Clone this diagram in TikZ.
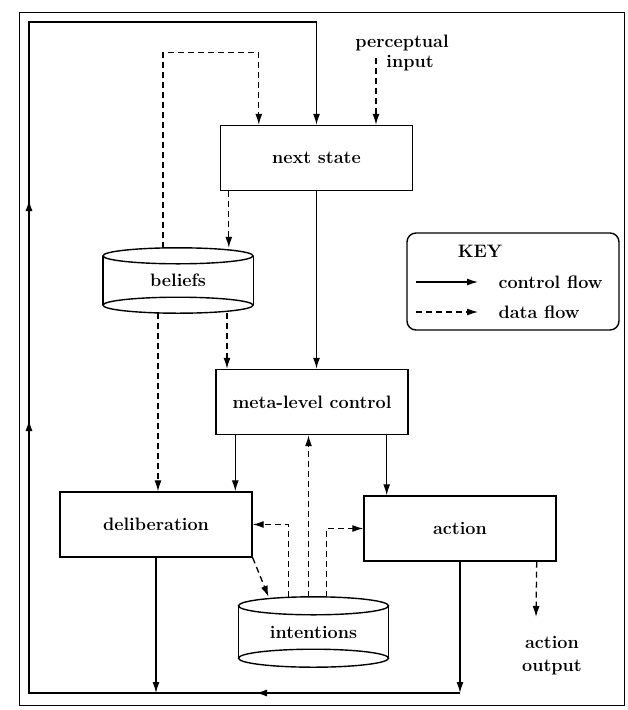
\documentclass[tikz,border=0pt]{standalone}
\usepackage{fontspec}
\usetikzlibrary{arrows.meta,calc,decorations.markings}
\tikzset{
  box/.style={draw, line width=1.4pt, minimum width=192pt, minimum height=65pt, inner sep=0pt},
  drum/.style={minimum width=150pt, minimum height=65pt, inner sep=0pt},
  lbl/.style={font=\fontsize{18}{23}\selectfont\bfseries},
  ctrl/.style={line width=1.3pt, -{Latex[length=11pt,width=7pt]}},
  data/.style={ctrl, dash pattern=on 6pt off 4pt},
  loopline/.style={ctrl, postaction={decorate}, decoration={markings,
      mark=at position 204pt with {\arrow{Latex[length=11pt,width=7pt]}},
      mark=at position 704pt with {\arrow{Latex[length=11pt,width=7pt]}},
      mark=at position 924pt with {\arrow{Latex[length=11pt,width=7pt]}}}},
}
\def\drumlines(#1:#2){\draw[line width=1.4pt] ($(#1.north west)+(0,#2)$) -- ($(#1.south west)+(0,-#2)$)
    ($(#1.north east)+(0,#2)$) -- ($(#1.south east)+(0,-#2)$);
  \draw[line width=1.4pt] ($(#1.north)+(0,#2)$) ellipse (75pt and #2pt)
    ($(#1.south)+(0,-#2)$) ellipse (75pt and #2pt);}

\begin{document}
\begin{tikzpicture}[x=1pt, y=-1pt]
	\useasboundingbox (0,0) rectangle (627,710);
	\draw[line width=1pt] (19,12) rectangle (624,705);
	
	% boxes and stores
	\node[box, lbl] (nextstate) at (316.5,158) {next state};
	\node[box, lbl] (meta) at (312,402) {meta-level control};
	\node[box, lbl] (delib) at (156,524.5) {deliberation};
	\node[box, lbl] (action) at (460,528.5) {action};
	\node[drum, lbl] (beliefs) at (178,280.5) {beliefs};
	\drumlines(beliefs:8)
	\node[drum, lbl, minimum height=70pt] (intent) at (313.5,632) {intentions};
	\drumlines(intent:9)
	
	% outside texts
	\node[lbl] (percept) at (402,43) {perceptual};
	\node[lbl] (input) at (410,63) {input};
	\node[lbl, align=center] (actout) at (552,656) {action\\output};
	\coordinate (intip) at (376,58);
	\coordinate (outtip) at (536,617);
	\coordinate (loopsw) at (29,693);
	\coordinate (loopnw) at (29,22);
	
	% key
	\node[draw, rounded corners=9pt, line width=1.4pt, minimum width=212pt, minimum height=97pt] (key) at (513,281.5) {};
	\node[lbl] (keytitle) at (480,251) {KEY};
	\node[lbl, anchor=west] (ctrltxt) at (495,282) {control flow};
	\node[lbl, anchor=west] (datatxt) at (495,312) {data flow};
	\draw[ctrl] ($(key.west |- ctrltxt.west)+(10,0)$) -- ($(ctrltxt.west)+(-17,0)$);
	\draw[data] ($(key.west |- datatxt.west)+(10,0)$) -- ($(datatxt.west)+(-17,0)$);
	
	% data flow
	\draw[data] (intip) -- (intip |- nextstate.north);
	\draw[data] ([xshift=-15pt]beliefs.north) -- ++(0,-195) -| ([xshift=39pt]nextstate.north west);
	\draw[data] ([xshift=9pt]nextstate.south west) -- ([xshift=9pt]nextstate.south west |- beliefs.north);
	\draw[data] ([xshift=-20pt]beliefs.south) -- ([xshift=-20pt]beliefs.south |- delib.north);
	\draw[data] ([xshift=49pt]beliefs.south) -- ([xshift=49pt]beliefs.south |- meta.north);
	\draw[data] ([xshift=-5pt]intent.north) -- ([xshift=-5pt]intent.north |- meta.south);
	\draw[data] ([xshift=-25pt]intent.north) |- (delib.east);
	\draw[data] ([xshift=13pt]intent.north) |- (action.west);
	\draw[data] (delib.south east) -- ([xshift=-45pt]intent.north);
	\draw[data] ([xshift=-20pt]action.south east) -- (outtip);
	
	% control flow
	\draw[ctrl] (nextstate.south) -- (nextstate.south |- meta.north);
	\draw[ctrl] ([xshift=20pt]meta.south west) -- ([xshift=20pt]meta.south west |- delib.north);
	\draw[ctrl] ([xshift=-22pt]meta.south east) -- ([xshift=-22pt]meta.south east |- action.north);
	\draw[ctrl] (delib.south) -- (delib.south |- loopsw);
	\draw[ctrl] (action.south) -- (action.south |- loopsw);
	\draw[loopline] (action.south |- loopsw) -- (loopsw) -- (loopnw) -| (nextstate.north);
\end{tikzpicture}
\end{document}
